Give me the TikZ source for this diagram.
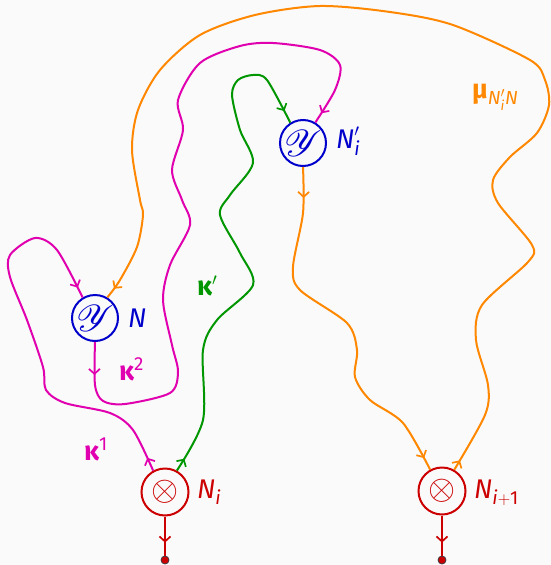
\documentclass[tikz,border=0pt]{standalone}
\usepackage{fontspec}
\setmainfont{Fira Sans}
\usepackage{amsmath,amssymb,mathrsfs,graphicx}
\usetikzlibrary{arrows.meta,decorations.markings}
\definecolor{cblue}{RGB}{0,0,204}
\definecolor{cred}{RGB}{204,0,0}
\definecolor{cmag}{RGB}{224,0,176}
\definecolor{cgreen}{RGB}{0,150,0}
\definecolor{corange}{RGB}{255,136,0}
\definecolor{cbg}{RGB}{250,250,250}
\definecolor{cdot}{RGB}{60,60,70}
\newcommand{\gk}{\text{\bfseries κ}}
\newcommand{\gm}{\text{\bfseries μ}}
\newcommand{\bigY}{\scalebox{1.5}{$\mathscr{Y}$}}
\newcommand{\bigO}{\scalebox{1.4}{$\otimes$}}
\begin{document}
\begin{tikzpicture}[x=1pt,y=-1pt,
  every node/.style={font=\fontsize{27}{30}\selectfont},
  bluenode/.style={circle,draw=cblue,line width=2pt,minimum size=46pt,inner sep=0pt,text=cblue},
  rednode/.style={circle,draw=cred,line width=2pt,minimum size=47pt,inner sep=0pt,text=cred},
  enddot/.style={circle,fill=cred,draw=cdot,line width=0.8pt,minimum size=8pt,inner sep=0pt},
  wire/.style={line width=2pt},
  tipmark/.style 2 args={postaction={decorate},decoration={markings,
     mark=at position #1 with {\arrow{Straight Barb[length=5pt,width=11pt,line width=1.7pt]}},
     mark=at position #2 with {\arrow{Straight Barb[length=5pt,width=11pt,line width=1.7pt]}}}},
  onemark/.style={postaction={decorate},decoration={markings,
     mark=at position #1 with {\arrow{Straight Barb[length=5pt,width=11pt,line width=1.7pt]}}}},
  lab/.style={anchor=base west,inner sep=0pt}
]
\useasboundingbox[fill=cbg] (0,0) rectangle (551,565);

\node[bluenode] (N) at (95,318) {\bigY};
\node[bluenode] (Np) at (303,143) {\bigY};
\node[rednode] (Ni) at (165,492) {\bigO};
\node[rednode] (Nj) at (442,491) {\bigO};
\node[enddot] (d1) at (165,560) {};
\node[enddot] (d2) at (442,560) {};

\node[lab,text=cblue] (lN) at (128,327) {\textit{N}};
\node[lab,text=cblue] (lNp) at (336,148) {$\textit{N}'_{\textit{i}}$};
\node[lab,text=cred] (lNi) at (197,498) {$\textit{N}_{\textit{i}}$};
\node[lab,text=cred] (lNj) at (474,498) {$\textit{N}_{\textit{i}+\text{1}}$};
\node[lab,text=corange] (lmu) at (472,98) {$\gm_{\textit{N}'_{\textit{i}}\textit{N}}$};
\node[lab,text=cmag] (lk2) at (119,380) {$\gk^{\text{2}}$};
\node[lab,text=cmag] (lk1) at (84,460) {$\gk^{\text{1}}$};
\node[lab,text=cgreen] (lkp) at (197,295) {$\gk'$};

% red outputs
\draw[wire,cred,onemark=-13pt] (Ni) -- (d1);
\draw[wire,cred,onemark=-13pt] (Nj) -- (d2);

% kappa^1
\draw[wire,cmag,tipmark={14pt}{-11pt}] plot[smooth] coordinates {(Ni.119) (133,430) (110,413) (65,403) (46,390) (43,367) (27,320) (10,277) (10,255) (35,238) (57,250) (N.121)};

% kappa^2
\draw[wire,cmag,tipmark={33pt}{-11pt}] plot[smooth] coordinates {(N.270) (95,385) (103,401) (125,404) (170,393) (178,372) (172,345) (163,300) (170,265) (190,225) (182,200) (172,170) (183,130) (178,100) (200,63) (240,46) (273,43) (320,50) (340,65) (335,90) (Np.59)};

% kappa'
\draw[wire,cgreen,tipmark={14pt}{-13pt}] plot[smooth] coordinates {(Ni.61) (203,420) (203,350) (217,320) (253,285) (240,253) (220,215) (230,195) (253,163) (240,130) (232,95) (238,80) (253,75) (267,80) (Np.122)};

% mu from N'_i to N_{i+1}
\draw[wire,corange,tipmark={31pt}{-13pt}] plot[smooth] coordinates {(Np.270) (303,213) (293,267) (300,290) (347,323) (357,350) (355,377) (370,400) (403,423) (Nj.119)};

% mu from N_{i+1} to N
\draw[wire,corange,tipmark={11pt}{-11pt}] plot[smooth] coordinates {(Nj.60) (485,415) (488,385) (476,340) (482,305) (528,262) (532,245) (498,203) (493,180) (510,157) (537,133) (549,105) (545,80) (530,60) (453,25) (390,12) (320,6) (255,15) (200,35) (160,70) (138,110) (132,150) (140,200) (143,215) (137,247) (120,280) (N.59)};
\end{tikzpicture}
\end{document}
